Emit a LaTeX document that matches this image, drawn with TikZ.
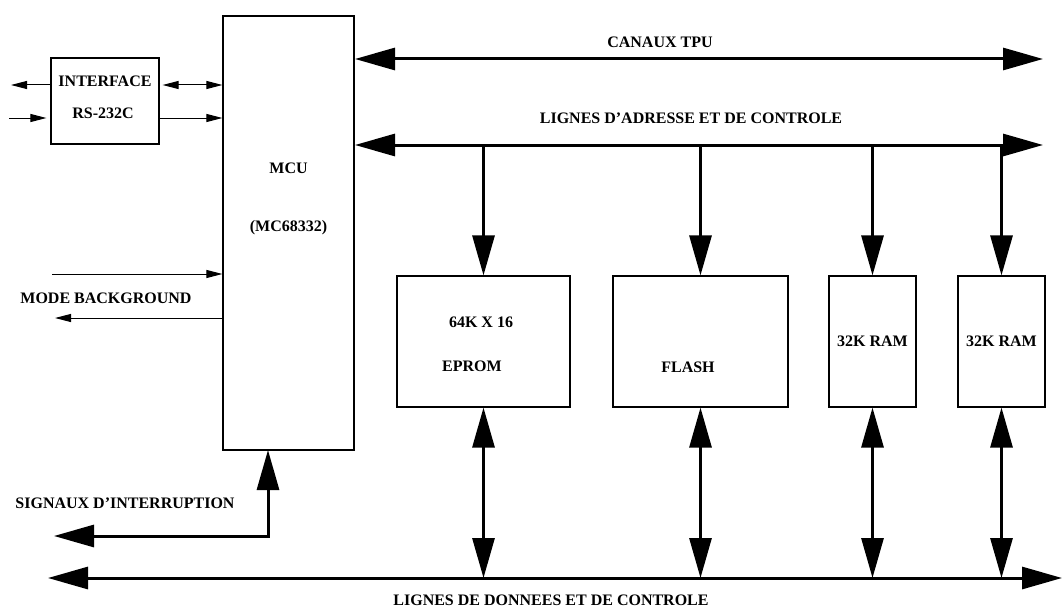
\documentclass[tikz,border=0pt]{standalone}
\usepackage{fontspec}
\setmainfont{Liberation Serif}
\usetikzlibrary{arrows.meta,positioning}
\tikzset{
  blk/.style={draw, line width=1.2pt, inner sep=0pt, font=\fontsize{16}{18}\selectfont\bfseries},
  lbl/.style={inner sep=0pt, font=\fontsize{16}{18}\selectfont\bfseries},
  bus/.style={line width=3pt, >={Triangle[length=40pt,width=22pt]}},
  sig/.style={line width=1pt, >={Triangle[length=16pt,width=8pt]}}
}

\begin{document}
\begin{tikzpicture}[x=1pt, y=-1pt]
  \useasboundingbox (0,0) rectangle (1063,610);
  \node[blk, minimum width=131pt, minimum height=434pt] (mcu) at (288.5,233) {};
  \node[lbl] (mcutxt) at (288.5,168) {MCU};
  \node[lbl] (mcuref) at (288.5,228) {(MC68332)};
  \node[blk, minimum width=108pt, minimum height=86pt] (iface) at (105,101) {};
  \node[lbl] (ifacetxt) at (105,81) {INTERFACE};
  \node[lbl] (rstxt) at (103,113) {RS-232C};
  \node[blk, minimum width=173pt, minimum height=131pt] (eprom) at (483.5,341.5) {};
  \node[lbl] (eprsize) at (481,322) {64K X 16};
  \node[lbl] (eprtxt) at (472,366) {EPROM};
  \node[blk, minimum width=175pt, minimum height=131pt] (flash) at (700.5,341.5) {};
  \node[lbl] (flashtxt) at (688,367) {FLASH};
  \node[blk, minimum width=87pt, minimum height=131pt] (ramA) at (872.5,341.5) {32K RAM};
  \node[blk, minimum width=87pt, minimum height=131pt] (ramB) at (1001.5,341.5) {32K RAM};
  \node[lbl] (tputxt) at (660,42) {CANAUX TPU};
  \node[lbl] (addrtxt) at (691,118) {LIGNES D'ADRESSE ET DE CONTROLE};
  \node[lbl] (datatxt) at (551,600) {LIGNES DE DONNEES ET DE CONTROLE};
  \node[lbl] (modetxt) at (106,298) {MODE BACKGROUND};
  \node[lbl] (irqtxt) at (125,503) {SIGNAUX D'INTERRUPTION};
  \coordinate (tpuL) at (355,59);
  \coordinate (tpuR) at (1043,59);
  \coordinate (addrL) at (355,145);
  \coordinate (addrR) at (1043,145);
  \coordinate (dataL) at (48,578);
  \coordinate (dataR) at (1062,578);
  \coordinate (irqin) at (268,450);
  \coordinate (irqout) at (54,536);
  \coordinate (rxout) at (11,85);
  \coordinate (txin) at (9,118);
  \coordinate (modein) at (52,274);
  \coordinate (modeout) at (55,318);
  \draw[bus, <->] (tpuL) -- (tpuR);
  \draw[bus, <->] (addrL) -- (addrR);
  \draw[bus, <->] (dataL) -- (dataR);
  \foreach \m in {eprom, flash, ramA, ramB} {
    \draw[bus, ->] (\m.north |- addrL) -- (\m.north);
    \draw[bus, <->] (\m.south) -- (\m.south |- dataL);
  }
  \draw[bus, <->] (irqout) -| (irqin);
  \draw[sig, ->] (iface.west |- rxout) -- (rxout);
  \draw[sig, ->] (txin) -- ([xshift=-4pt]iface.west |- txin);
  \draw[sig, <->, shorten <=3pt] (iface.east |- rxout) -- (mcu.west |- rxout);
  \draw[sig, ->] (iface.east |- txin) -- (mcu.west |- txin);
  \draw[sig, ->] (modein) -- (mcu.west |- modein);
  \draw[sig, ->] (mcu.west |- modeout) -- (modeout);
\end{tikzpicture}
\end{document}
